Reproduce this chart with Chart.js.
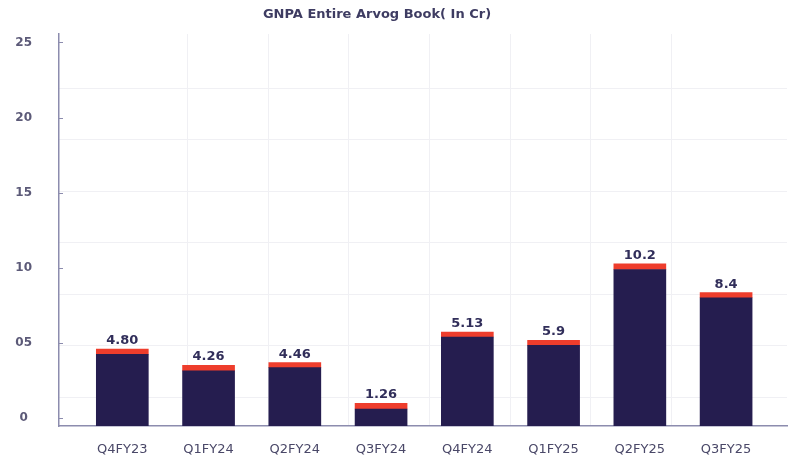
<!DOCTYPE html>
<html>
<head>
<meta charset="utf-8">
<script src="https://cdn.jsdelivr.net/npm/chart.js@4.4.1/dist/chart.umd.min.js"></script>
<style>
  html, body { margin: 0; padding: 0; background: #ffffff; }
  canvas { display: block; }
</style>
</head>
<body>
<canvas id="c" width="789" height="461"></canvas>
<script>
// ---- data ----
const chartTitle = 'GNPA Entire Arvog Book( In Cr)';
const categories = ['Q4FY23', 'Q1FY24', 'Q2FY24', 'Q3FY24', 'Q4FY24', 'Q1FY25', 'Q2FY25', 'Q3FY25'];
const baseValues = [4.26, 3.16, 3.37, 0.62, 5.41, 4.86, 9.90, 8.02];   // navy part
const capValues  = [0.34, 0.37, 0.34, 0.37, 0.33, 0.33, 0.38, 0.34];   // red cap
const valueLabels = ['4.80', '4.26', '4.46', '1.26', '5.13', '5.9', '10.2', '8.4'];
const yTickValues = [0, 5, 10, 15, 20, 25];
const yTickLabels = ['0', '05', '10', '15', '20', '25'];

// ---- styles ----
const NAVY = '#251d4f';
const RED = '#ee3d2c';
const AXIS = '#8c8cae';
const FAINT = '#f0f0f4';
const Y_MIN = -0.51, Y_MAX = 25.55;
const X_MIN = -0.734, X_MAX = 7.706;

const titlePlugin = {
  id: 'titleText',
  afterDraw(chart) {
    const ctx = chart.ctx;
    ctx.save();
    ctx.font = 'bold 13px "DejaVu Sans"';
    ctx.fillStyle = '#3e3c62';
    ctx.textAlign = 'center';
    ctx.textBaseline = 'middle';
    ctx.fillText(chartTitle, 377, 15);
    ctx.restore();
  }
};

const valueLabelPlugin = {
  id: 'valueLabels',
  afterDatasetsDraw(chart) {
    const ctx = chart.ctx;
    const meta = chart.getDatasetMeta(1);
    ctx.save();
    ctx.font = 'bold 13px "DejaVu Sans"';
    ctx.fillStyle = '#312e5a';
    ctx.textAlign = 'center';
    ctx.textBaseline = 'alphabetic';
    meta.data.forEach((el, i) => {
      ctx.fillText(valueLabels[i], el.x, el.y - 5);
    });
    ctx.restore();
  }
};

const innerTickPlugin = {
  id: 'innerTicks',
  afterDraw(chart) {
    const ys = chart.scales.y;
    const ctx = chart.ctx;
    ctx.save();
    ctx.strokeStyle = AXIS;
    ctx.lineWidth = 1;
    ys.ticks.forEach(t => {
      const py = Math.round(ys.getPixelForValue(t.value)) + 0.5;
      ctx.beginPath();
      ctx.moveTo(ys.right, py);
      ctx.lineTo(ys.right + 4, py);
      ctx.stroke();
    });
    ctx.restore();
  }
};

new Chart(document.getElementById('c'), {
  type: 'bar',
  data: {
    datasets: [
      {
        label: 'GNPA',
        data: categories.map((c, i) => ({ x: i, y: baseValues[i] })),
        backgroundColor: NAVY,
        base: Y_MIN,
        stack: 's',
        barThickness: 52
      },
      {
        label: 'cap',
        data: categories.map((c, i) => ({ x: i, y: capValues[i] })),
        backgroundColor: RED,
        stack: 's',
        barThickness: 52
      }
    ]
  },
  plugins: [titlePlugin, valueLabelPlugin, innerTickPlugin],
  options: {
    responsive: false,
    animation: false,
    devicePixelRatio: 1,
    layout: { padding: { top: 33, right: 2, left: 0, bottom: 0 } },
    plugins: {
      legend: { display: false },
      tooltip: { enabled: false },
      title: { display: false }
    },
    scales: {
      x: {
        type: 'linear',
        stacked: true,
        offset: false,
        min: X_MIN,
        max: X_MAX,
        afterBuildTicks: (s) => { s.ticks = categories.map((c, i) => ({ value: i })); },
        afterFit: (s) => { s.height = 35; },
        grid: { display: false, drawTicks: false, offset: false },
        border: { display: true, color: AXIS, width: 1.5 },
        ticks: {
          autoSkip: false,
          maxRotation: 0,
          padding: 16,
          color: '#4a4868',
          font: { family: 'DejaVu Sans', size: 13 },
          callback: (v) => categories[v]
        }
      },
      xg: {
        type: 'linear',
        position: 'top',
        offset: false,
        min: -0.596,
        max: 8.437,
        afterBuildTicks: (s) => { s.ticks = s.ticks.filter(t => Number.isInteger(t.value)); },
        afterFit: (s) => { s.height = 0; },
        grid: { color: FAINT, drawTicks: false, offset: false },
        border: { display: false },
        ticks: { display: false, stepSize: 1 }
      },
      y: {
        stacked: true,
        min: Y_MIN,
        max: Y_MAX,
        afterBuildTicks: (s) => { s.ticks = yTickValues.map(v => ({ value: v })); },
        afterFit: (s) => { s.width = 59; },
        grid: { display: false, drawTicks: false },
        border: { display: true, color: AXIS, width: 1.5 },
        ticks: {
          crossAlign: 'center',
          padding: 27,
          color: '#5c5a78',
          font: { family: 'DejaVu Sans', size: 12, weight: 'bold' },
          callback: (v) => yTickLabels[yTickValues.indexOf(v)]
        }
      },
      yg: {
        type: 'linear',
        position: 'right',
        min: -0.562,
        max: 7.054,
        afterBuildTicks: (s) => { s.ticks = s.ticks.filter(t => Number.isInteger(t.value)); },
        afterFit: (s) => { s.width = 0; },
        grid: { color: FAINT, drawTicks: false },
        border: { display: false },
        ticks: { display: false, stepSize: 1 }
      }
    }
  }
});
</script>
</body>
</html>
